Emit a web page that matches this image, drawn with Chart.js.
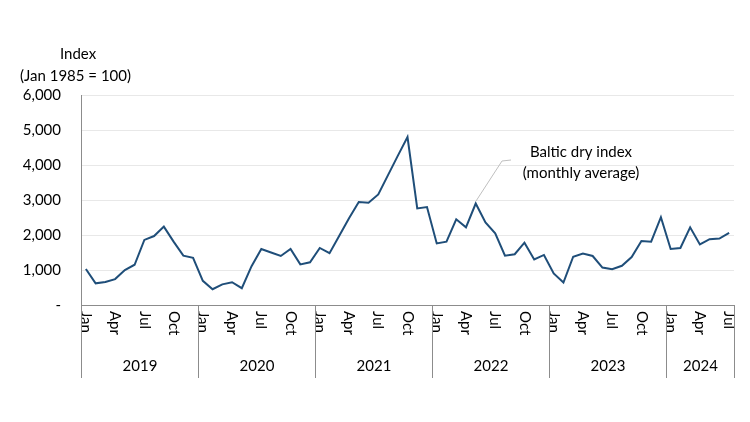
<!DOCTYPE html>
<html lang="en">
<head>
<meta charset="UTF-8">
<title>Baltic dry index</title>
<script src="https://cdn.jsdelivr.net/npm/chart.js"></script>
<style>
  body { margin: 0; background: #fff; }
  #wrap { width: 750px; height: 422px; }
</style>
</head>
<body>
<div id="wrap"><canvas id="bdi"></canvas></div>
<script>
// data, Jan 2019 .. Jul 2024
const years = ['2019', '2020', '2021', '2022', '2023', '2024'];
const monthNames = ['Jan','Feb','Mar','Apr','May','Jun','Jul','Aug','Sep','Oct','Nov','Dec'];
const yTicks = [0, 1000, 2000, 3000, 4000, 5000, 6000];
const bdi2019 = [1030, 620, 660, 740, 1000, 1150, 1860, 1970, 2240, 1810, 1410, 1350];
const bdi2020 = [690, 450, 590, 650, 480, 1110, 1600, 1500, 1400, 1600, 1160, 1220];
const bdi2021 = [1630, 1480, 1980, 2480, 2940, 2920, 3160, 3710, 4260, 4800, 2760, 2800];
const bdi2022 = [1760, 1810, 2450, 2220, 2900, 2360, 2050, 1410, 1450, 1780, 1300, 1430];
const bdi2023 = [900, 640, 1380, 1470, 1400, 1070, 1020, 1120, 1370, 1830, 1810, 2510];
const bdi2024 = [1600, 1630, 2220, 1730, 1880, 1900, 2060];

const values = [].concat(bdi2019, bdi2020, bdi2021, bdi2022, bdi2023, bdi2024);
const labels = values.map((v, i) => monthNames[i % 12] + ' ' + years[Math.floor(i / 12)]);

const FONT = 'Lato, "Open Sans", sans-serif';

// month labels, year groups, axis title and callout
const decor = {
  id: 'decor',
  afterDraw(chart) {
    const c = chart.ctx, x = chart.scales.x, y = chart.scales.y, a = chart.chartArea;
    const step = x.getPixelForValue(1) - x.getPixelForValue(0);
    c.save();
    c.fillStyle = '#000';
    c.font = '15px ' + FONT;
    // rotated month labels every quarter
    for (let i = 0; i < values.length; i += 3) {
      c.save();
      c.translate(x.getPixelForValue(i), a.bottom + 6);
      c.rotate(Math.PI / 2);
      c.textAlign = 'left';
      c.textBaseline = 'middle';
      c.fillText(monthNames[i % 12], 0, 0);
      c.restore();
    }
    // year separators and names
    c.strokeStyle = '#8c8c8c';
    c.lineWidth = 1;
    const edges = [];
    for (let k = 0; k <= years.length; k++) {
      const idx = Math.min(k * 12, values.length);
      edges.push(Math.round(x.getPixelForValue(0) - step / 2 + idx * step) + 0.5);
    }
    edges.forEach(px => {
      c.beginPath(); c.moveTo(px, a.bottom); c.lineTo(px, a.bottom + 73); c.stroke();
    });
    c.textAlign = 'center';
    c.textBaseline = 'middle';
    years.forEach((yr, k) => c.fillText(yr, (edges[k] + edges[k + 1]) / 2, a.bottom + 61));
    // axis title
    c.textAlign = 'left';
    c.fillText('Index', 60, 54);
    c.fillText('(Jan 1985 = 100)', 20, 76);
    // callout
    const px = x.getPixelForValue(40), py = y.getPixelForValue(values[40]);
    c.strokeStyle = '#bfbfbf';
    c.beginPath(); c.moveTo(px, py - 2); c.lineTo(502, 161); c.lineTo(511, 160); c.stroke();
    c.textAlign = 'center';
    c.fillText('Baltic dry index', 581, 152);
    c.fillText('(monthly average)', 581, 173);
    c.restore();
  }
};

new Chart(document.getElementById('bdi'), {
  type: 'line',
  data: {
    labels: labels,
    datasets: [{
      data: values,
      borderColor: '#1f4e79',
      borderWidth: 2,
      pointRadius: 0,
      tension: 0
    }]
  },
  options: {
    responsive: true,
    maintainAspectRatio: false,
    animation: false,
    layout: { padding: { top: 95, right: 16, left: 0, bottom: 0 } },
    plugins: { legend: { display: false }, tooltip: { enabled: false } },
    scales: {
      x: {
        offset: true,
        grid: { display: false },
        border: { color: '#8c8c8c' },
        ticks: { display: false },
        afterFit: s => { s.height = 117; }
      },
      y: {
        min: 0,
        max: 6000,
        afterBuildTicks: s => { s.ticks = yTicks.map(v => ({ value: v })); },
        grid: { color: '#e8e8e8', drawTicks: false },
        border: { color: '#8c8c8c' },
        ticks: {
          color: '#000',
          padding: 20,
          font: { family: FONT, size: 15 },
          callback: v => v === 0 ? '-' : v.toLocaleString('en-US')
        },
        afterFit: s => { s.width = 81; }
      }
    }
  },
  plugins: [decor]
});
</script>
</body>
</html>
